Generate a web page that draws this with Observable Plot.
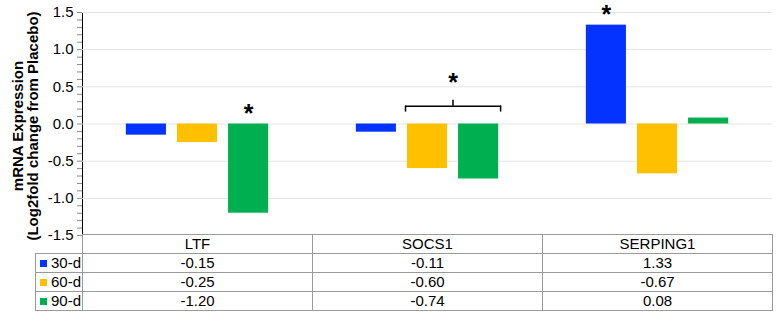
<!DOCTYPE html>
<html><head><meta charset="utf-8">
<script src="https://cdn.jsdelivr.net/npm/d3@7"></script>
<script src="https://cdn.jsdelivr.net/npm/@observablehq/plot@0.6"></script>
<style>
body{margin:0;background:#fff;font-family:"Liberation Sans",Arial,sans-serif;}
#wrap{position:relative;width:778px;height:314px;overflow:hidden;}
#chart{position:absolute;left:0;top:0;}
#tbl{position:absolute;left:35px;top:234px;border-collapse:collapse;table-layout:fixed;font-size:15px;color:#000;}
#tbl td{border:1px solid #9a9a9a;height:18px;padding:0;text-align:center;line-height:18px;white-space:nowrap;overflow:hidden;}
#tbl td.leg{text-align:left;padding-left:4px;}
#tbl td.blank{border-top:none;border-left:none;}
.sw{display:inline-block;width:7px;height:7px;margin-right:4px;vertical-align:1px;}
svg [aria-label="y-axis tick"] path{stroke:#8c8c8c;}
</style></head><body><div id="wrap"><div id="chart"></div><table id="tbl"></table></div>
<script>
const genes = ["LTF", "SOCS1", "SERPING1"];
const series = ["30-d", "60-d", "90-d"];
const colors = ["#0433FF", "#FFC000", "#00B050"];
const v30 = [-0.15, -0.11, 1.33];
const v60 = [-0.25, -0.60, -0.67];
const v90 = [-1.20, -0.74, 0.08];
const yTickLabels = [-1.5, -1.0, -0.5, 0.0, 0.5, 1.0, 1.5];
const yAxisTitle = "mRNA Expression\n(Log2fold change from Placebo)";
const significant = [{gene: "LTF", series: "90-d"}, {gene: "SERPING1", series: "30-d"}];
const brackets = [{gene: "SOCS1", from: "60-d", to: "90-d", end: 0.16, level: 0.24, tip: 0.32, star: 0.42}];

const values = [v30, v60, v90];
const data = [];
genes.forEach((g, i) => series.forEach((s, j) => data.push({gene: g, series: s, value: values[j][i]})));
const sigData = significant.map(d => ({...d, value: data.find(e => e.gene === d.gene && e.series === d.series).value}));
const minorTicks = d3.range(-15, 16).map(i => i / 10);
const isMajor = d => yTickLabels.some(t => Math.abs(t - d) < 1e-9);

const chart = Plot.plot({
  width: 778, height: 236,
  marginLeft: 82, marginRight: 6, marginTop: 12, marginBottom: 1,
  style: {fontFamily: '"Liberation Sans", Arial, sans-serif', fontSize: "15px", background: "transparent", overflow: "visible", color: "#000"},
  fx: {domain: genes, padding: 0, axis: null, label: null},
  x: {domain: series, paddingInner: 0.2157, paddingOuter: 0.858, axis: null, round: false},
  y: {domain: [-1.5, 1.5], ticks: minorTicks, tickFormat: d => isMajor(d) ? d.toFixed(1) : "", tickSize: 5, tickPadding: 4, line: true, label: null},
  color: {domain: series, range: colors},
  marks: [
    Plot.ruleY(yTickLabels.filter(t => t > -1.5), {stroke: "#e4e4e4"}),
    Plot.barY(data, {fx: "gene", x: "series", y: "value", fill: "series"}),
    Plot.text(sigData, {fx: "gene", x: "series", y: d => Math.max(0, d.value), text: () => "*", lineAnchor: "bottom", fontSize: 25, fontWeight: "bold", dy: -2}),
    Plot.ruleY(brackets, {fx: "gene", x1: "from", x2: "to", y: "level", insetLeft: -2, insetRight: -3, stroke: "#000", strokeWidth: 1.5}),
    Plot.ruleX(brackets, {fx: "gene", x: "from", y1: "end", y2: "level", dx: -22, stroke: "#000", strokeWidth: 1.5}),
    Plot.ruleX(brackets, {fx: "gene", x: "to", y1: "end", y2: "level", dx: 22, stroke: "#000", strokeWidth: 1.5}),
    Plot.ruleX(brackets, {fx: "gene", x: "from", y1: "level", y2: "tip", dx: 25.5, stroke: "#000", strokeWidth: 1.5}),
    Plot.text(brackets, {fx: "gene", x: "from", y: "star", dx: 25.5, text: () => "*", lineAnchor: "bottom", fontSize: 25, fontWeight: "bold", dy: -2}),
    Plot.text([yAxisTitle], {fx: ["LTF"], text: d => d, frameAnchor: "left", rotate: -90, dx: -57, dy: 2, lineHeight: 1.0, fontWeight: "bold", fontSize: 15, textAnchor: "middle", lineAnchor: "middle"})
  ]
});
document.getElementById("chart").appendChild(chart);

// data table
const tbl = d3.select("#tbl");
const cg = tbl.append("colgroup");
[47, 230, 230, 230].forEach(w => cg.append("col").style("width", w + "px"));
const hr = tbl.append("tr");
hr.append("td").attr("class", "blank");
genes.forEach(g => hr.append("td").text(g));
series.forEach((s, j) => {
  const tr = tbl.append("tr");
  const c = tr.append("td").attr("class", "leg");
  c.append("span").attr("class", "sw").style("background", colors[j]);
  c.append("span").text(s);
  genes.forEach((g, i) => tr.append("td").text(values[j][i].toFixed(2)));
});
</script></body></html>
